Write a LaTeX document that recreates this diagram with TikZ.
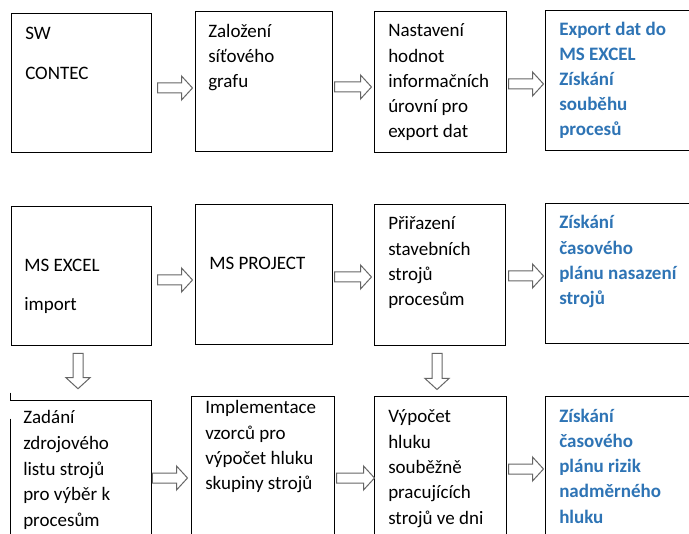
\documentclass[tikz,border=0pt]{standalone}
\usepackage{fontspec}
\setmainfont{Carlito}
\usetikzlibrary{calc,fit}
\definecolor{hdblue}{HTML}{2E74B5}
\definecolor{arrowgray}{HTML}{666666}
\newcommand\mainsize{\fontsize{14.25pt}{18.75pt}\selectfont}
\newcommand\placelines[6]{%
  \foreach \mytext [count=\i] in {#6} {
    \node[#5] (#1-\i) at (#2, {#3+(\i-1)*#4}) {\mytext};
  }%
}
\tikzset{
  box/.style={draw=black, line width=0.75pt, inner sep=0pt, rectangle},
  nobox/.style={draw=none, inner sep=0pt, rectangle},
  txt/.style={anchor=base west, inner sep=0pt, font=\mainsize, text=black},
  bluetxt/.style={anchor=base west, inner sep=0pt, font=\mainsize\bfseries, text=hdblue},
  harrow/.style={draw=arrowgray, line width=0.75pt, fill=white,
    to path={let \p1=(\tikztostart), \p2=(\tikztotarget) in
      (\x1,{\y1+3.75pt}) -- ({\x2-8.25pt},{\y1+3.75pt}) -- ({\x2-8.25pt},{\y1+9pt})
      -- (\x2,\y1) -- ({\x2-8.25pt},{\y1-9pt}) -- ({\x2-8.25pt},{\y1-3.75pt})
      -- (\x1,{\y1-3.75pt}) -- cycle}},
  varrow/.style={draw=arrowgray, line width=0.75pt, fill=white,
    to path={let \p1=(\tikztostart), \p2=(\tikztotarget) in
      ({\x1-3.75pt},\y1) -- ({\x1-3.75pt},{\y2+8.25pt}) -- ({\x1-9pt},{\y2+8.25pt})
      -- (\x1,\y2) -- ({\x1+9pt},{\y2+8.25pt}) -- ({\x1+3.75pt},{\y2+8.25pt})
      -- ({\x1+3.75pt},\y1) -- cycle}},
}
\begin{document}
\begin{tikzpicture}[x=0.75pt,y=-0.75pt]
\useasboundingbox (0,0) rectangle (689,534);
\clip (0,0) rectangle (689,534);
\fill[white] (0,0) rectangle (689,534);

% boxes
\node[box, fit={(11,14) (151,153)}] (b11) {};
\node[box, fit={(195,12) (332,152)}] (b12) {};
\node[box, fit={(374,12) (506,153)}] (b13) {};
\node[box, fit={(545,11) (700,151)}] (b14) {};
\node[box, fit={(11,207) (151,346)}] (b21) {};
\node[box, fit={(195,205) (332,345)}] (b22) {};
\node[box, fit={(374,205) (505,346)}] (b23) {};
\node[box, fit={(545,204) (700,344)}] (b24) {};
\node[nobox, fit={(11,401) (151,560)}] (b31) {};
\node[box, fit={(191,397) (334,560)}] (b32) {};
\node[box, fit={(374,397) (506,560)}] (b33) {};
\node[box, fit={(545,397) (700,560)}] (b34) {};
% broken outline of b31
\draw[line width=0.75pt] ($(b31.north west)+(0,-8)$) -- (b31.north west) -- (b31.north east) -- (b31.south east);
\draw[line width=0.75pt] ($(b31.north west)+(0,18)$) -- (b31.south west);

% texts
\node[txt] (t11a) at (25,39.5) {SW};
\node[txt] (t11b) at (25,80) {CONTEC};
\placelines{t12}{208}{38}{25}{txt}{Založení,síťového,grafu}
\placelines{t13}{388}{37}{25.1}{txt}{Nastavení,hodnot,informačních,úrovní pro,export dat}
\placelines{t14}{559}{36}{25}{bluetxt}{Export dat do,MS EXCEL,Získání,souběhu,procesů}
\node[txt] (t21a) at (24,271.5) {MS EXCEL};
\node[txt] (t21b) at (24,310.5) {import};
\node[txt] (t22a) at (209,270) {MS PROJECT};
\placelines{t23}{388}{230}{25.2}{txt}{Přiřazení,stavebních,strojů,procesům}
\placelines{t24}{559}{229}{25.2}{bluetxt}{Získání,časového,plánu nasazení,strojů}
\placelines{t31}{23}{424}{25.6}{txt}{Zadání,zdrojového,listu strojů,pro výběr k,procesům}
\placelines{t32}{205}{414}{25.3}{txt}{Implementace,vzorců pro,výpočet hluku,skupiny strojů}
\placelines{t33}{388}{423}{25.25}{txt}{Výpočet,hluku,souběžně,pracujících,strojů ve dni}
\placelines{t34}{559}{422}{25.25}{bluetxt}{Získání,časového,plánu rizik,nadměrného,hluku}

% horizontal block arrows
\draw[harrow] ($(b11.east|-0,88)+(6,0)$) to ($(b12.west|-0,88)+(-2,0)$);
\draw[harrow] ($(b12.east|-0,87)+(2,0)$) to ($(b13.west|-0,87)+(-2,0)$);
\draw[harrow] ($(b13.east|-0,84)+(2,0)$) to ($(b14.west|-0,84)+(-1,0)$);
\draw[harrow] ($(b21.east|-0,280)+(6,0)$) to ($(b22.west|-0,280)+(-2,0)$);
\draw[harrow] ($(b22.east|-0,277)+(2,0)$) to ($(b23.west|-0,277)+(-2,0)$);
\draw[harrow] ($(b23.east|-0,276)+(3,0)$) to ($(b24.west|-0,276)+(-1,0)$);
\draw[harrow] ($(b31.east|-0,478)+(1,0)$) to ($(b32.west|-0,478)+(-3,0)$);
\draw[harrow] ($(b32.east|-0,478)+(2,0)$) to ($(b33.west|-0,478)+(1,0)$);
\draw[harrow] ($(b33.east|-0,469)+(2,0)$) to ($(b34.west|-0,469)+(-1,0)$);
% vertical block arrows
\draw[varrow] ($(b21.south-|78,0)+(0,7)$) to ($(b31.north-|78,0)+(0,-12)$);
\draw[varrow] ($(b23.south-|437,0)+(0,7)$) to ($(b33.north-|437,0)+(0,-7)$);
\end{tikzpicture}
\end{document}
